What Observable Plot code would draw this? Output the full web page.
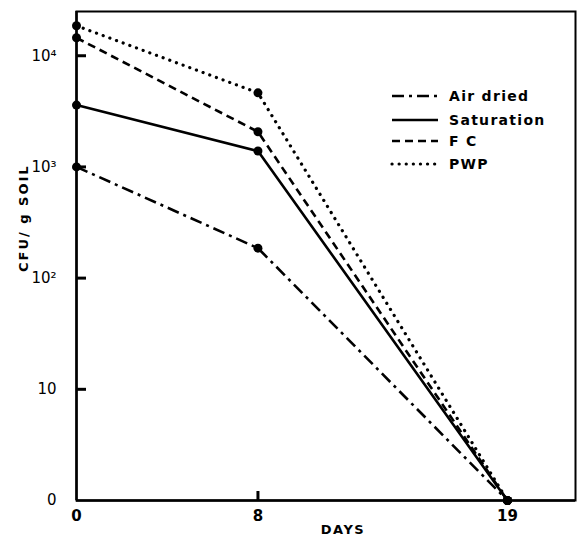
<!DOCTYPE html>
<html><head><meta charset="utf-8">
<script src="https://cdn.jsdelivr.net/npm/d3@7"></script>
<script src="https://cdn.jsdelivr.net/npm/@observablehq/plot@0.6"></script>
<style>
body{margin:0;background:#fff;font-family:"DejaVu Sans",sans-serif}
#wrap{position:relative;width:579px;height:541px}
#legend{position:absolute;left:386px;top:84px}
</style>
</head><body><div id="wrap"></div>
<script>
const days = [0, 8, 19];
const seriesNames = ["Air dried", "Saturation", "FC", "PWP"];
const legendLabels = ["Air dried", "Saturation", "F C", "PWP"];
const airDried = [1000, 186, 1];
const saturation = [3600, 1390, 1];
const fc = [14500, 2070, 1];
const pwp = [18600, 4640, 1];
const yTicks = [1, 10, 100, 1000, 10000];
const yTickLabels = ["0", "10", "10²", "10³", "10⁴"];
const xTicks = [0, 8, 19];
const xInnerTicks = [8];
const xLabel = "DAYS";
const yLabel = "CFU/ g SOIL";

const seriesValues = [airDried, saturation, fc, pwp];
const data = seriesNames.flatMap((s, i) => days.map((d, j) => ({series: s, day: d, value: seriesValues[i][j]})));

const styles = {
  "Air dried": {strokeDasharray: "12,5,3,5", strokeWidth: 2.6, strokeLinecap: "butt"},
  "Saturation": {strokeDasharray: null, strokeWidth: 2.6, strokeLinecap: "butt"},
  "FC": {strokeDasharray: "8,5", strokeWidth: 2.6, strokeLinecap: "butt"},
  "PWP": {strokeDasharray: "0.1,7", strokeWidth: 3.2, strokeLinecap: "round"}
};

const ink = "#000";
const W = 579, H = 541, mL = 76, mR = 4, mT = 11, mB = 41;
const plotW = W - mL - mR, plotH = H - mT - mB;

const lineMarks = seriesNames.map(s => Plot.line(data.filter(d => d.series === s), {
  x: "day", y: "value", stroke: ink, ...styles[s]
}));

const chart = Plot.plot({
  width: W,
  height: H,
  marginLeft: mL,
  marginRight: mR,
  marginTop: mT,
  marginBottom: mB,
  style: {fontFamily: "DejaVu Sans, sans-serif", fontSize: "14px", color: ink, background: "#fff"},
  x: {domain: [0, 22], label: null},
  y: {type: "log", domain: [1, 25000], label: null},
  marks: [
    Plot.frame({stroke: ink, strokeWidth: 2}),
    Plot.axisY({ticks: yTicks, tickSize: 0, tickPadding: 20, tickFormat: (d) => yTickLabels[yTicks.indexOf(d)], label: null, fontSize: 15}),
    Plot.axisX({ticks: xTicks, tickSize: 0, tickPadding: 10, label: null, fontSize: 15, fontWeight: "bold"}),
    Plot.ruleX([0], {stroke: ink, strokeWidth: 2.5}),
    Plot.ruleY([1], {stroke: ink, strokeWidth: 2.5}),
    ...lineMarks,
    Plot.dot(data, {x: "day", y: "value", r: 4.5, fill: ink, stroke: null}),
    // inward tick marks
    Plot.ruleY(yTicks.slice(1), {stroke: ink, strokeWidth: 3, insetRight: plotW - 10}),
    Plot.ruleX(xInnerTicks, {stroke: ink, strokeWidth: 3, insetTop: plotH - 9}),
    Plot.text([xLabel], {frameAnchor: "bottom", dy: 33, dx: 17, fontSize: 13, fontWeight: "bold", fill: ink}),
    Plot.text([yLabel], {frameAnchor: "left", rotate: -90, dx: -53, dy: 16, fontSize: 13, fontWeight: "bold", fill: ink})
  ]
});
chart.querySelectorAll("text").forEach(t => {
  if (t.textContent === xLabel) t.style.letterSpacing = "1.5px";
  if (t.textContent === yLabel) t.style.letterSpacing = "2px";
});
const wrap = document.getElementById("wrap");
wrap.appendChild(chart);

// legend overlay inside plot area
const lg = d3.select(wrap).append("svg").attr("id", "legend").attr("width", 180).attr("height", 100);
seriesNames.forEach((s, i) => {
  const y = 12 + [0, 24, 45, 68][i];
  const st = styles[s];
  lg.append("line").attr("x1", 6).attr("x2", 52).attr("y1", y).attr("y2", y)
    .attr("stroke", ink).attr("stroke-width", st.strokeWidth)
    .attr("stroke-dasharray", st.strokeDasharray).attr("stroke-linecap", st.strokeLinecap);
  lg.append("text").attr("x", 63).attr("y", y).attr("dy", "0.35em")
    .attr("font-size", 14).attr("font-weight", "bold").attr("fill", ink)
    .style("letter-spacing", "1.3px").text(legendLabels[i]);
});
</script>
</body></html>
